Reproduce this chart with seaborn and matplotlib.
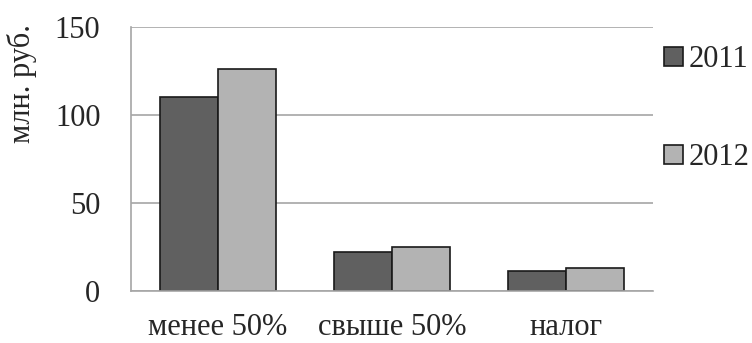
import matplotlib
matplotlib.use("Agg")
import matplotlib.pyplot as plt
import pandas as pd
import seaborn as sns

categories = ["менее 50%", "свыше 50%", "налог"]
years = ["2011", "2012"]
values_2011 = [110, 22, 11.5]
values_2012 = [126, 25, 13]

sns.set_style("white")
plt.rcParams["font.family"] = ["Liberation Serif", "DejaVu Serif"]
FS = 22

df = pd.DataFrame({
    "category": categories * 2,
    "year": [years[0]] * 3 + [years[1]] * 3,
    "value": values_2011 + values_2012,
})

fig = plt.figure(figsize=(7.52, 3.43), dpi=100)
ax = fig.add_axes([131 / 752, 1 - 291 / 343, 522 / 752, 264 / 343])

sns.barplot(data=df, x="category", y="value", hue="year",
            palette=["#606060", "#b3b3b3"], width=0.667,
            edgecolor="#1a1a1a", linewidth=1.2, saturation=1, ax=ax)

ax.set_ylim(0, 150)
ax.set_xlim(-0.5, 2.5)
ax.set_yticks([0, 50, 100, 150])
ax.yaxis.grid(True, color="#a6a6a6", linewidth=1.2)
ax.set_axisbelow(True)

grey = "#a6a6a6"
for side in ["top", "right"]:
    ax.spines[side].set_visible(False)
for side in ["left", "bottom"]:
    ax.spines[side].set_color(grey)
    ax.spines[side].set_linewidth(1.2)

# category ticks sit on the boundaries between groups
ax.set_xticks([-0.5, 0.5, 1.5, 2.5], minor=False)
ax.set_xticklabels([])
ax.set_xticks([0, 1, 2], minor=True)
ax.set_xticklabels(categories, minor=True, fontsize=FS)
ax.tick_params(axis="x", which="major", length=10, width=1.2, color=grey, direction="out")
ax.tick_params(axis="x", which="minor", length=0, pad=16)
ax.tick_params(axis="y", length=9, width=1.2, color=grey, labelsize=FS, pad=13)

ax.set_xlabel("")
ax.set_ylabel("")
fig.text(22 / 752, 1 - 84 / 343, "млн. руб.", rotation=90, fontsize=FS,
         ha="center", va="center")

handles, labels = ax.get_legend_handles_labels()
ax.legend(handles, labels, loc="upper left", bbox_to_anchor=(1.022, 0.93),
          frameon=False, fontsize=FS, handlelength=0.6, handleheight=0.6,
          handletextpad=0.2, labelspacing=2.25, borderaxespad=0, borderpad=0)

fig.savefig("out.png", dpi=100)
